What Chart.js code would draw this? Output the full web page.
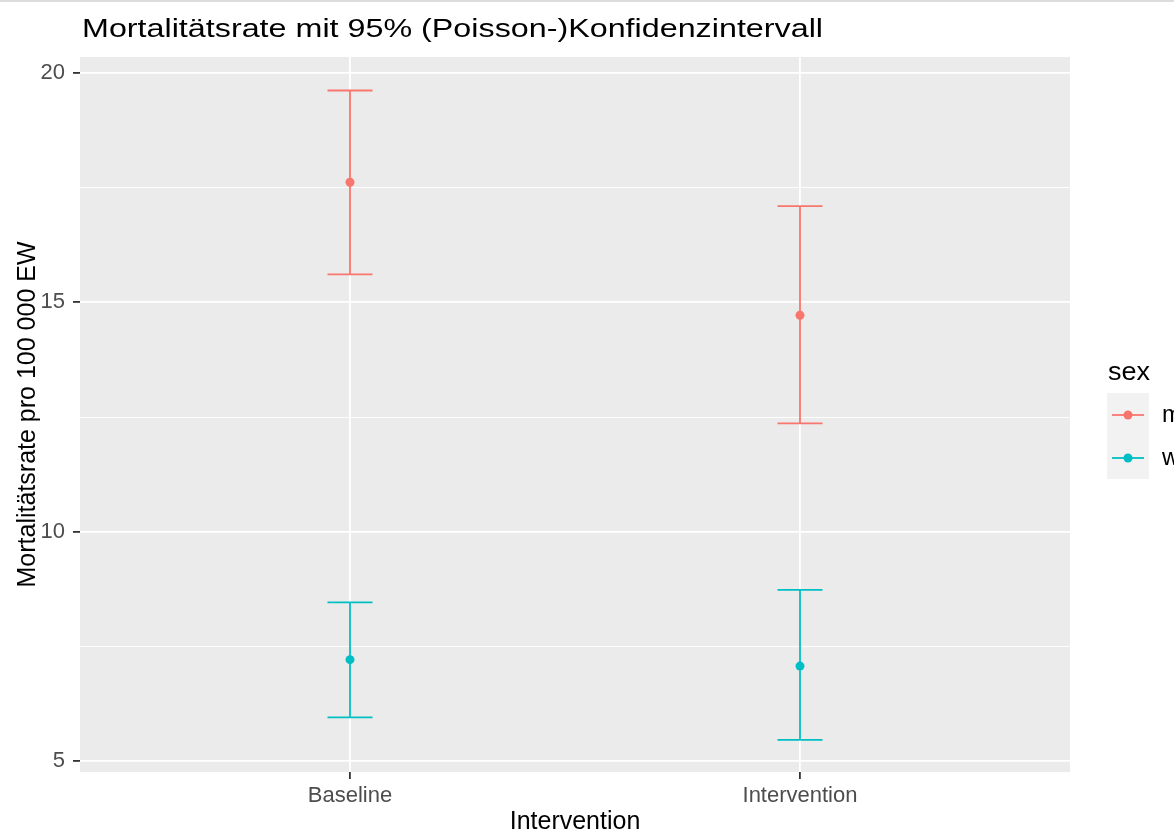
<!DOCTYPE html>
<html>
<head>
<meta charset="utf-8">
<script src="https://cdn.jsdelivr.net/npm/chart.js@4/dist/chart.umd.min.js"></script>
<style>
  html, body { margin: 0; padding: 0; background: #fff; }
  #wrap { width: 1174px; height: 839px; position: relative; }
</style>
</head>
<body>
<div id="wrap"><canvas id="chart" width="1174" height="839"></canvas></div>
<script>
// data
const categories = ['Baseline', 'Intervention'];
const sexLevels = ['m', 'w'];
const rateM = [17.62, 14.72];
const lowerM = [15.61, 12.36];
const upperM = [19.62, 17.10];
const rateW = [7.21, 7.07];
const lowerW = [5.95, 5.46];
const upperW = [8.46, 8.73];
const yTicks = [5, 10, 15, 20];

const colM = '#F8766D';
const colW = '#00BFC4';
const fontFam = '"Liberation Sans", Arial, sans-serif';

function toPoints(rates, lows, highs) {
  return categories.map((c, i) => ({ x: i + 1, y: rates[i], lo: lows[i], hi: highs[i] }));
}

// draws text stretched horizontally to a given width (reference font is wide)
function wideText(ctx, txt, x, y, w) {
  const m = ctx.measureText(txt).width;
  ctx.save();
  ctx.translate(x, y);
  ctx.scale(w / m, 1);
  ctx.fillText(txt, 0, 0);
  ctx.restore();
}

// grey panel, top border line
const panelBg = {
  id: 'panelBg',
  beforeDraw(chart) {
    const { ctx, chartArea: a } = chart;
    ctx.save();
    ctx.fillStyle = '#dcdcdc';
    ctx.fillRect(0, 0, chart.width, 2);
    ctx.fillStyle = '#EBEBEB';
    ctx.fillRect(a.left, a.top, a.right - a.left, a.bottom - a.top);
    ctx.restore();
  }
};

// error bars with caps
const errorBars = {
  id: 'errorBars',
  beforeDatasetsDraw(chart) {
    const { ctx, scales: { x, y } } = chart;
    const capHalf = (x.getPixelForValue(2) - x.getPixelForValue(1)) * 0.05;
    ctx.save();
    chart.data.datasets.forEach(ds => {
      ctx.strokeStyle = ds.backgroundColor;
      ctx.lineWidth = 1.8;
      ds.data.forEach(p => {
        const px = x.getPixelForValue(p.x);
        const top = y.getPixelForValue(p.hi);
        const bot = y.getPixelForValue(p.lo);
        ctx.beginPath();
        ctx.moveTo(px, top); ctx.lineTo(px, bot);
        ctx.moveTo(px - capHalf, top); ctx.lineTo(px + capHalf, top);
        ctx.moveTo(px - capHalf, bot); ctx.lineTo(px + capHalf, bot);
        ctx.stroke();
      });
    });
    ctx.restore();
  }
};

// title + ggplot style legend
const extras = {
  id: 'extras',
  afterDraw(chart) {
    const { ctx } = chart;
    ctx.save();
    ctx.fillStyle = '#000';
    ctx.textAlign = 'left';
    ctx.textBaseline = 'alphabetic';
    ctx.font = '26.5px ' + fontFam;
    wideText(ctx, 'Mortalitätsrate mit 95% (Poisson-)Konfidenzintervall', 82, 37, 741);

    ctx.font = '25px ' + fontFam;
    wideText(ctx, 'sex', 1108, 380, 42);
    ctx.fillStyle = '#F2F2F2';
    ctx.fillRect(1107, 393, 42, 86);
    chart.data.datasets.forEach((ds, i) => {
      const cy = 415 + i * 43;
      ctx.strokeStyle = ds.backgroundColor;
      ctx.lineWidth = 1.8;
      ctx.beginPath();
      ctx.moveTo(1112, cy); ctx.lineTo(1144, cy);
      ctx.stroke();
      ctx.fillStyle = ds.backgroundColor;
      ctx.beginPath();
      ctx.arc(1128, cy, 4.5, 0, Math.PI * 2);
      ctx.fill();
      ctx.fillStyle = '#000';
      ctx.font = '24px ' + fontFam;
      ctx.textBaseline = 'middle';
      ctx.fillText(sexLevels[i], 1162, cy);
    });
    ctx.restore();
  }
};

new Chart(document.getElementById('chart'), {
  type: 'scatter',
  data: {
    datasets: [
      { label: sexLevels[0], data: toPoints(rateM, lowerM, upperM), backgroundColor: colM, pointRadius: 4.5, pointBorderWidth: 0, pointHoverRadius: 4.5 },
      { label: sexLevels[1], data: toPoints(rateW, lowerW, upperW), backgroundColor: colW, pointRadius: 4.5, pointBorderWidth: 0, pointHoverRadius: 4.5 }
    ]
  },
  options: {
    responsive: false,
    animation: false,
    layout: { padding: { top: 57, right: 104, left: 0, bottom: 0 } },
    plugins: { legend: { display: false }, title: { display: false }, tooltip: { enabled: false } },
    scales: {
      x: {
        type: 'linear',
        min: 0.4, max: 2.6,
        afterBuildTicks: s => { s.ticks = categories.map((c, i) => ({ value: i + 1 })); },
        afterFit: s => { s.height = 67; },
        ticks: {
          callback: v => categories[v - 1] || '',
          color: '#4D4D4D', font: { family: fontFam, size: 22 }, padding: 4, maxRotation: 0
        },
        grid: { color: '#FFFFFF', lineWidth: 1.8, tickColor: '#333333', tickLength: 7, drawTicks: true },
        border: { display: false },
        title: { display: true, text: 'Intervention', color: '#000', font: { family: fontFam, size: 25 }, padding: { top: 0, bottom: 2 } }
      },
      y: {
        min: 4.76, max: 20.35,
        afterBuildTicks: s => {
          s.ticks = [];
          for (let v = 5; v <= 20; v += 2.5) s.ticks.push({ value: v });
        },
        afterFit: s => { s.width = 80; },
        ticks: {
          callback: v => (yTicks.includes(v) ? String(v) : ''),
          color: '#4D4D4D', font: { family: fontFam, size: 22 }, padding: 8
        },
        grid: {
          color: '#FFFFFF',
          lineWidth: c => (c.tick && yTicks.includes(c.tick.value) ? 1.8 : 0.9),
          tickColor: c => (c.tick && yTicks.includes(c.tick.value) ? '#333333' : 'rgba(0,0,0,0)'),
          tickLength: 7
        },
        border: { display: false },
        title: { display: true, text: 'Mortalitätsrate pro 100 000 EW', color: '#000', font: { family: fontFam, size: 25 }, padding: { top: 13, bottom: 0 } }
      }
    }
  },
  plugins: [panelBg, errorBars, extras]
});
</script>
</body>
</html>
